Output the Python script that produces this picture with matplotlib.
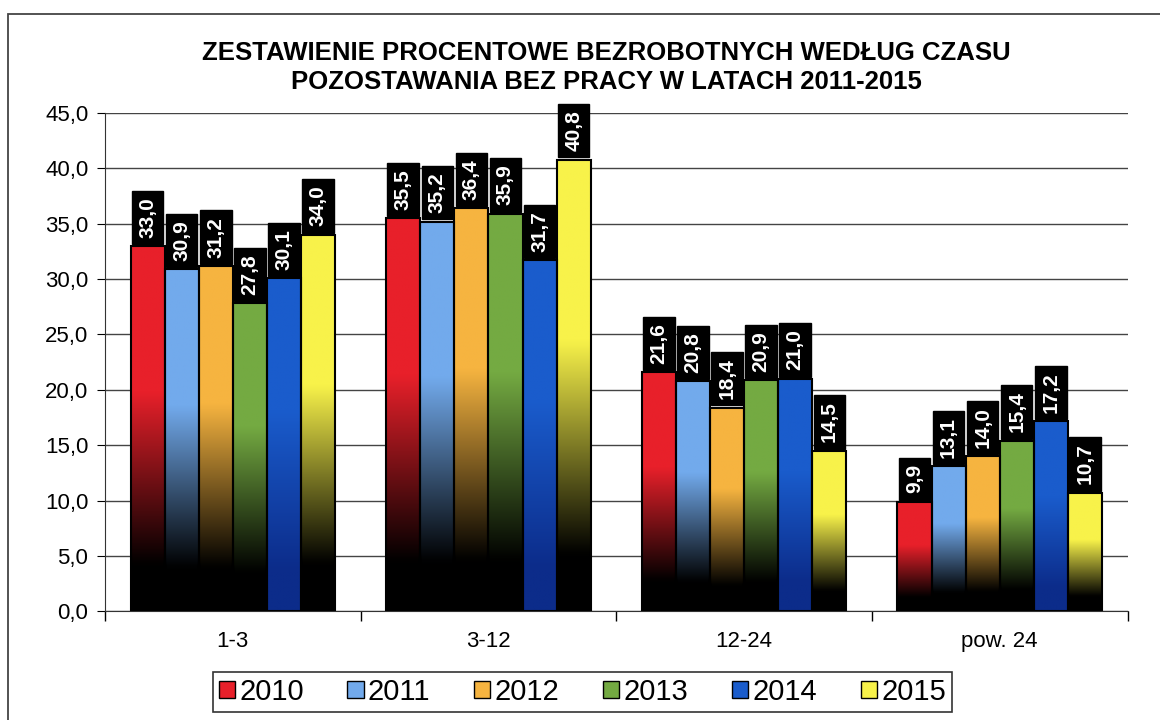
import numpy as np
import matplotlib
matplotlib.use('Agg')
import matplotlib.pyplot as plt
from matplotlib.patches import Rectangle
from matplotlib.colors import to_rgb
import matplotlib.ticker as ticker

plt.rcParams['font.family'] = ['Liberation Sans', 'DejaVu Sans']

# data
cats = ['1-3', '3-12', '12-24', 'pow. 24']
years = ['2010', '2011', '2012', '2013', '2014', '2015']
v2010 = [33.0, 35.5, 21.6, 9.9]
v2011 = [30.9, 35.2, 20.8, 13.1]
v2012 = [31.2, 36.4, 18.4, 14.0]
v2013 = [27.8, 35.9, 20.9, 15.4]
v2014 = [30.1, 31.7, 21.0, 17.2]
v2015 = [34.0, 40.8, 14.5, 10.7]
series = [v2010, v2011, v2012, v2013, v2014, v2015]

colors = ['#e8202a', '#72aaec', '#f6b440', '#74aa42', '#1a5ccc', '#f8f24a']
darks = ['#000000', '#000000', '#000000', '#000000', '#0c2c8a', '#000000']

def gradient(col, dark, n=64):
    # colour on top, fading to dark toward the bottom of each bar
    t = np.linspace(0, 1, n)
    f = np.clip((t - 0.12) / (0.6 - 0.12), 0, 1)
    c = np.array(to_rgb(col)); d = np.array(to_rgb(dark))
    g = d[None, :] * (1 - f[:, None]) + c[None, :] * f[:, None]
    return np.repeat(g[:, None, :], 2, axis=1)

fig = plt.figure(figsize=(11.6, 7.2), dpi=100)
ax = fig.add_axes([0.0905, 0.151, 0.8815, 0.692])

x = np.arange(len(cats))
w = 0.8 / len(years)
for i, vals in enumerate(series):
    pos = x - 0.4 + w * (i + 0.5)
    grad = gradient(colors[i], darks[i])
    for p, v in zip(pos, vals):
        ax.imshow(grad, extent=[p - w / 2, p + w / 2, 0, v], aspect='auto',
                  origin='lower', zorder=2, interpolation='bilinear',
                  interpolation_stage='rgba')
    ax.bar(pos, vals, w, facecolor='none', edgecolor='black', linewidth=1.5, zorder=3)
    for p, v in zip(pos, vals):
        ax.annotate(('%.1f' % v).replace('.', ','), (p, v), xytext=(0, 6),
                    textcoords='offset points', ha='center', va='bottom',
                    rotation=90, color='white', fontsize=15, fontweight='bold',
                    bbox=dict(boxstyle='square,pad=0.3', fc='black', ec='black'),
                    zorder=4)

ax.set_xlim(-0.5, 3.5)
ax.set_ylim(0, 45)
ax.yaxis.set_major_locator(ticker.MultipleLocator(5))
ax.yaxis.set_major_formatter(ticker.FuncFormatter(lambda v, p: ('%.1f' % v).replace('.', ',')))
ax.grid(axis='y', color='#444444', linewidth=1)
ax.set_axisbelow(True)

ax.set_xticks(x)
ax.set_xticklabels(cats)
ax.set_xticks(np.arange(-0.5, 4, 1), minor=True)
ax.tick_params(axis='x', which='major', length=0, pad=14, labelsize=16)
ax.tick_params(axis='x', which='minor', length=7, width=1)
ax.tick_params(axis='y', length=6, labelsize=16, pad=6)
for s in ['top', 'right']:
    ax.spines[s].set_visible(False)
ax.spines['left'].set_color('#333333')
ax.spines['bottom'].set_color('#333333')

fig.text(0.523, 0.906, 'ZESTAWIENIE PROCENTOWE BEZROBOTNYCH WEDŁUG CZASU\nPOZOSTAWANIA BEZ PRACY W LATACH 2011-2015',
         ha='center', va='center', fontsize=18.5, fontweight='bold', linespacing=1.25)

handles = [Rectangle((0, 0), 1, 1, fc=c, ec='black', lw=1) for c in colors]
leg = fig.legend(handles, years, loc='center', bbox_to_anchor=(0.502, 0.039), ncol=6,
                 fontsize=21, handlelength=0.55, handleheight=0.55, handletextpad=0.15,
                 columnspacing=1.5, frameon=True, fancybox=False, borderpad=0.2)
leg.get_frame().set_edgecolor('black')
leg.get_frame().set_linewidth(1.2)

fig.patches.append(Rectangle((8 / 1160, -0.02), 1.2, 1.0 - 14 / 720 + 0.02,
                             transform=fig.transFigure, fill=False,
                             edgecolor='#444444', linewidth=1.3))

fig.savefig('out.png', dpi=100)
